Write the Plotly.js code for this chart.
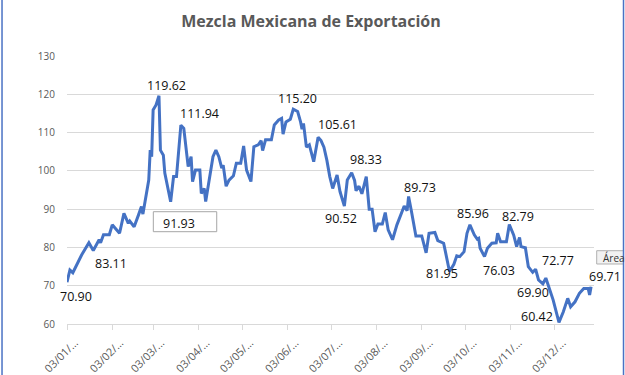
<!DOCTYPE html>
<html>
<head>
<meta charset="utf-8">
<script src="https://cdn.plot.ly/plotly-3.0.1.min.js"></script>
<style>html,body{margin:0;padding:0;background:#fff;}#chart{width:625px;height:375px;}</style>
</head>
<body>
<div id="chart"></div>
<script>
// Series: Mezcla Mexicana de Exportación (USD/bbl), 2022
var dates = [
'2022-01-03','2022-01-05','2022-01-07','2022-01-10','2022-01-13','2022-01-18','2022-01-21','2022-01-25','2022-01-26','2022-01-28',
'2022-02-01','2022-02-03','2022-02-08','2022-02-11','2022-02-14','2022-02-15','2022-02-18','2022-02-21','2022-02-23','2022-02-24','2022-02-26','2022-02-28',
'2022-03-01','2022-03-02','2022-03-03','2022-03-05','2022-03-07','2022-03-08','2022-03-10','2022-03-11','2022-03-15','2022-03-17','2022-03-19','2022-03-22','2022-03-24','2022-03-26','2022-03-27','2022-03-29','2022-03-30',
'2022-04-01','2022-04-04','2022-04-05','2022-04-07','2022-04-08','2022-04-11','2022-04-13','2022-04-15','2022-04-17','2022-04-19','2022-04-20','2022-04-22','2022-04-24','2022-04-27','2022-04-29',
'2022-05-02','2022-05-03','2022-05-04','2022-05-06','2022-05-09','2022-05-11','2022-05-14','2022-05-16','2022-05-17','2022-05-19','2022-05-23','2022-05-25','2022-05-28','2022-05-30','2022-05-31',
'2022-06-02','2022-06-05','2022-06-07','2022-06-10','2022-06-12','2022-06-13','2022-06-14','2022-06-16','2022-06-18','2022-06-21','2022-06-24','2022-06-26','2022-06-28','2022-06-30',
'2022-07-02','2022-07-04','2022-07-07','2022-07-09','2022-07-12','2022-07-14','2022-07-17','2022-07-19','2022-07-20','2022-07-22','2022-07-24','2022-07-27','2022-07-29','2022-07-31',
'2022-08-02','2022-08-04','2022-08-07','2022-08-09','2022-08-11','2022-08-14','2022-08-17','2022-08-19','2022-08-22','2022-08-24','2022-08-25','2022-08-27','2022-08-30',
'2022-09-03','2022-09-06','2022-09-08','2022-09-12','2022-09-14','2022-09-18','2022-09-19','2022-09-22','2022-09-25','2022-09-27','2022-09-29',
'2022-10-02','2022-10-04','2022-10-06','2022-10-09','2022-10-11','2022-10-12','2022-10-13','2022-10-16','2022-10-18','2022-10-21','2022-10-24','2022-10-25','2022-10-27','2022-10-31',
'2022-11-02','2022-11-05','2022-11-07','2022-11-09','2022-11-10','2022-11-13','2022-11-15','2022-11-18','2022-11-20','2022-11-22','2022-11-25','2022-11-27','2022-11-29',
'2022-12-02','2022-12-06','2022-12-09','2022-12-12','2022-12-14','2022-12-17','2022-12-20','2022-12-23','2022-12-26','2022-12-27','2022-12-28'
];
var prices = [
70.90,74.1,73.4,75.8,78.0,81.2,79.2,82.0,81.2,83.3,
83.3,85.9,83.7,88.9,86.3,86.9,85.4,88.5,90.7,88.7,93.3,97.6,
105.4,103.7,115.9,117.2,119.62,105.4,104.1,99.4,91.93,98.5,98.5,111.94,111.1,103.3,101.1,103.7,97.2,
100.2,100.2,94.1,95.4,92.0,98.5,103.7,105.4,103.7,100.7,101.5,96.0,97.6,98.7,102.0,
102.0,104.1,106.5,100.2,97.2,106.3,106.8,107.9,105.3,108.1,108.1,112.0,113.3,113.7,109.6,
112.8,113.5,116.1,115.5,112.8,110.9,112.4,106.2,106.8,102.4,108.8,107.9,106.2,102.8,
98.5,95.4,98.9,94.6,90.8,97.6,99.5,97.5,94.8,96.0,94.0,98.5,90.0,90.0,
84.1,86.1,86.1,89.1,84.6,82.0,85.9,88.0,90.8,89.6,93.3,89.3,83.0,
83.0,78.6,83.7,83.9,81.8,81.1,79.3,73.7,75.6,77.8,77.6,
78.9,83.7,85.9,83.3,82.2,82.4,79.8,77.6,79.8,81.1,81.2,83.7,81.5,81.5,
86.0,83.2,80.2,82.6,80.2,79.9,75.0,73.5,74.3,71.5,70.5,72.0,69.8,
66.3,60.42,63.2,66.7,64.5,65.8,68.0,69.3,69.3,67.6,69.71
];

// Axis ticks
var tickDates = ['2022-01-03','2022-02-03','2022-03-03','2022-04-03','2022-05-03','2022-06-03','2022-07-03','2022-08-03','2022-09-03','2022-10-03','2022-11-03','2022-12-03'];
var tickLabels = ['03/01/...','03/02/...','03/03/...','03/04/...','03/05/...','03/06/...','03/07/...','03/08/...','03/09/...','03/10/...','03/11/...','03/12/...'];

// Data labels (text) and their anchor positions
var labelText = ['70.90','83.11','91.93','119.62','111.94','115.20','105.61','98.33','90.52','89.73','81.95','85.96','82.79','76.03','72.77','69.90','60.42','69.71'];
var labelX = ['2022-01-09','2022-02-02','2022-03-21','2022-03-12','2022-04-04','2022-06-10','2022-07-07','2022-07-27','2022-07-10','2022-09-02','2022-09-17','2022-10-08','2022-11-08','2022-10-26','2022-12-05','2022-11-18','2022-11-21','2022-12-28'];
var labelY = [67.06,75.86,86.13,122.17,115.03,118.95,111.98,102.84,87.61,95.71,73.3,88.74,88.21,73.93,76.46,68.18,61.92,72.36];
var labelShift = [0,0,0,0,0,0,0,0,0,0,0,0,0,0,0,0,0,14];

var trace = {
  x: dates, y: prices, type: 'scatter', mode: 'lines',
  line: {color: '#4472C4', width: 3}, hoverinfo: 'skip'
};

var annotations = labelText.map(function(t, i){
  return {x: labelX[i], y: labelY[i], xref: 'x', yref: 'y', text: t, showarrow: false,
          xanchor: 'center', yanchor: 'middle', xshift: labelShift[i],
          font: {family: 'Open Sans, sans-serif', size: 12.5, color: '#111111'}};
});
annotations.push({xref: 'paper', yref: 'paper', x: 1.0133, y: 0.248, text: 'Área', showarrow: false,
  xanchor: 'left', yanchor: 'middle', font: {family: 'Open Sans, sans-serif', size: 10, color: '#333333'}});

var shapes = [
  {type: 'rect', xref: 'paper', yref: 'paper', x0: 0.1638, x1: 0.2841, y0: 0.3444, y1: 0.4190,
   line: {color: '#a6a6a6', width: 1}, fillcolor: 'rgba(0,0,0,0)'},
  {type: 'rect', xref: 'paper', yref: 'paper', x0: 1.0051, x1: 1.0560, y0: 0.2239, y1: 0.2735,
   line: {color: '#b0b0b0', width: 1}, fillcolor: '#f2f2f2', layer: 'below'},
  {type: 'line', xref: 'paper', yref: 'paper', x0: -0.1233, x1: -0.1233, y0: -0.2, y1: 1.22,
   line: {color: '#4a72c4', width: 1.5}},
  {type: 'line', xref: 'paper', yref: 'paper', x0: 1.0560, x1: 1.0560, y0: -0.2, y1: 1.22,
   line: {color: '#4a72c4', width: 1.5}}
];

var layout = {
  width: 625, height: 375,
  margin: {l: 67, r: 31, t: 56, b: 51},
  paper_bgcolor: '#ffffff', plot_bgcolor: '#ffffff',
  showlegend: false,
  title: {text: '<b>Mezcla Mexicana de Exportación</b>', x: 0.4976, xref: 'container', xanchor: 'center',
          y: 0.944, yref: 'container', yanchor: 'middle',
          font: {family: 'Open Sans, sans-serif', size: 16, color: '#595959'}},
  xaxis: {type: 'date', range: ['2022-01-03', '2022-12-30'], tickvals: tickDates, ticktext: tickLabels,
          tickangle: -45, ticks: 'outside', ticklen: 5, tickcolor: '#d9d9d9', showline: true, linecolor: '#d9d9d9',
          ticklabelshift: 8, ticklabelstandoff: 2,
          showgrid: false, zeroline: false, tickfont: {family: 'Open Sans, sans-serif', size: 11, color: '#595959'}},
  yaxis: {range: [60, 130], dtick: 10, tick0: 60, gridcolor: '#d9d9d9', gridwidth: 1, showline: false, zeroline: false,
          ticks: '', ticklabelstandoff: 11, tickfont: {family: 'Open Sans, sans-serif', size: 10, color: '#595959'}},
  annotations: annotations,
  shapes: shapes
};

Plotly.newPlot('chart', [trace], layout, {displayModeBar: false, staticPlot: true});
</script>
</body>
</html>
